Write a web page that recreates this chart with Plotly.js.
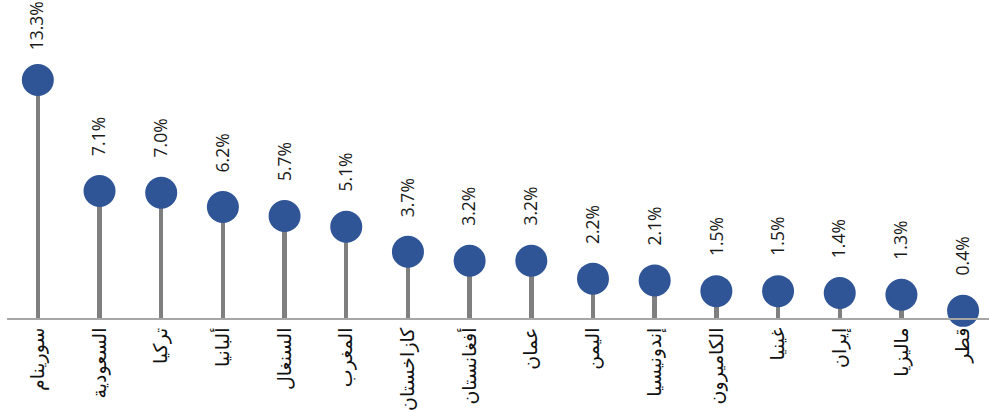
<!DOCTYPE html>
<html>
<head>
<meta charset="utf-8">
<script src="https://cdn.plot.ly/plotly-3.0.1.min.js"></script>
<style>html,body{margin:0;padding:0;background:#fff;}#chart{width:989px;height:412px;}</style>
</head>
<body>
<div id="chart"></div>
<script>
const categories = ["سورينام","السعودية","تركيا","ألبانيا","السنغال","المغرب","كازاخستان","أفغانستان","عمان","اليمن","إندونيسيا","الكاميرون","غينيا","إيران","ماليزيا","قطر"];
const values = [13.3, 7.1, 7.0, 6.2, 5.7, 5.1, 3.7, 3.2, 3.2, 2.2, 2.1, 1.5, 1.5, 1.4, 1.3, 0.4];
const labels = values.map(v => v.toFixed(1) + "%");

const stems = {
  type: "bar", x: categories, y: values, width: 0.072,
  marker: {color: "#7f7f7f"}, hoverinfo: "skip", showlegend: false
};
const dots = {
  type: "scatter", mode: "markers", x: categories, y: values,
  marker: {size: 32, color: "#2F5597", line: {width: 0}},
  cliponaxis: false, showlegend: false
};
const annotations = categories.map((c, i) => ({
  x: c, y: values[i], xref: "x", yref: "y",
  text: labels[i], textangle: -90, showarrow: false,
  xanchor: "center", yanchor: "bottom", yshift: i === 0 ? 28 : 33, xshift: -1,
  font: {family: "Open Sans, Noto Sans, sans-serif", size: 17.5, color: "#1a1a1a"}
}));

const layout = {
  width: 989, height: 412,
  margin: {l: 7, r: 0, t: 0, b: 94},
  paper_bgcolor: "#fff", plot_bgcolor: "#fff",
  bargap: 0,
  xaxis: {
    type: "category", range: [-0.5, 15.42],
    showline: true, linecolor: "#a6a6a6", linewidth: 2,
    showgrid: false, zeroline: false, ticks: "",
    tickangle: -90,
    tickfont: {family: "DejaVu Sans, Noto Sans, sans-serif", size: 19, color: "#111"}
  },
  yaxis: {range: [0, 17.77], visible: false, showgrid: false, zeroline: false},
  annotations: annotations
};
Plotly.newPlot("chart", [stems, dots], layout, {displayModeBar: false, staticPlot: true});
</script>
</body>
</html>
